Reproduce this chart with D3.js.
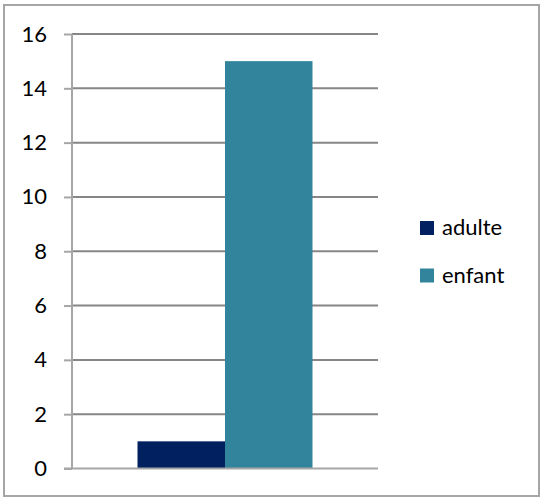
<!DOCTYPE html>
<html>
<head>
<meta charset="utf-8">
<script src="https://cdn.jsdelivr.net/npm/d3@7"></script>
<style>
  body { margin: 0; background: #fff; }
  text { font-family: Lato, "Open Sans", sans-serif; fill: #000; }
</style>
</head>
<body>
<script>
// chart data
var categories = ['1'];
var seriesNames = ['adulte', 'enfant'];
var adulte = [1];
var enfant = [15];
var yTicks = [0, 2, 4, 6, 8, 10, 12, 14, 16];
var colors = ['#002060', '#31849B'];

var width = 541, height = 498;
var plot = {left: 72, right: 378, top: 34, bottom: 468.5};

var svg = d3.select('body').append('svg')
            .attr('width', width)
            .attr('height', height);

// outer frame
svg.append('rect')
   .attr('x', 4).attr('y', 5)
   .attr('width', 535).attr('height', 491)
   .attr('fill', 'none')
   .attr('stroke', '#A6A6A6')
   .attr('stroke-width', 2);

var y = d3.scaleLinear().domain([0, 16]).range([plot.bottom, plot.top]);
var x0 = d3.scaleBand().domain(categories).range([plot.left, plot.right]).paddingInner(0).paddingOuter(0.3743);
var x1 = d3.scaleBand().domain(seriesNames).range([0, x0.bandwidth()]);

// gridlines
svg.append('g').selectAll('line').data(yTicks.filter(function(d) {return d > 0}))
   .enter().append('line')
   .attr('x1', plot.left).attr('x2', plot.right)
   .attr('y1', function(d) {return y(d)})
   .attr('y2', function(d) {return y(d)})
   .attr('stroke', '#868686')
   .attr('stroke-width', 2);

// y axis
var yAxis = d3.axisLeft(y).tickValues(yTicks).tickSize(8).tickPadding(17);
var gy = svg.append('g').attr('transform', 'translate(' + plot.left + ',0)').call(yAxis);
gy.select('.domain').attr('stroke', '#A6A6A6').attr('stroke-width', 2).attr('d', 'M0,' + plot.top + 'V' + plot.bottom);
gy.selectAll('.tick line').attr('stroke', '#A6A6A6').attr('stroke-width', 2);
gy.selectAll('.tick text')
  .style('font-family', 'Lato, "Open Sans", sans-serif')
  .style('font-size', '22px')
  .attr('fill', '#000');

// bars
var rows = categories.map(function(c, i) {return {cat: c, values: [adulte[i], enfant[i]]}});
var groups = svg.append('g').selectAll('g').data(rows).enter().append('g')
                .attr('transform', function(d) {return 'translate(' + x0(d.cat) + ',0)'});
groups.selectAll('rect')
      .data(function(d) {return d.values.map(function(v, j) {return {name: seriesNames[j], v: v, c: colors[j]}})})
      .enter().append('rect')
      .attr('x', function(d) {return x1(d.name)})
      .attr('width', x1.bandwidth())
      .attr('y', function(d) {return y(d.v)})
      .attr('height', function(d) {return y(0) - y(d.v)})
      .attr('fill', function(d) {return d.c});

// x axis line
svg.append('line')
   .attr('x1', 64).attr('x2', plot.right)
   .attr('y1', y(0)).attr('y2', y(0))
   .attr('stroke', '#A6A6A6').attr('stroke-width', 2);

// legend
var legend = svg.append('g').selectAll('g').data(seriesNames).enter().append('g')
                .attr('transform', function(d, i) {return 'translate(420,' + (221 + i * 47.5) + ')'});
legend.append('rect')
      .attr('width', 14).attr('height', 14)
      .attr('fill', function(d, i) {return colors[i]});
legend.append('text')
      .attr('x', 22).attr('y', 14)
      .style('font-size', '22px')
      .text(function(d) {return d});
</script>
</body>
</html>
